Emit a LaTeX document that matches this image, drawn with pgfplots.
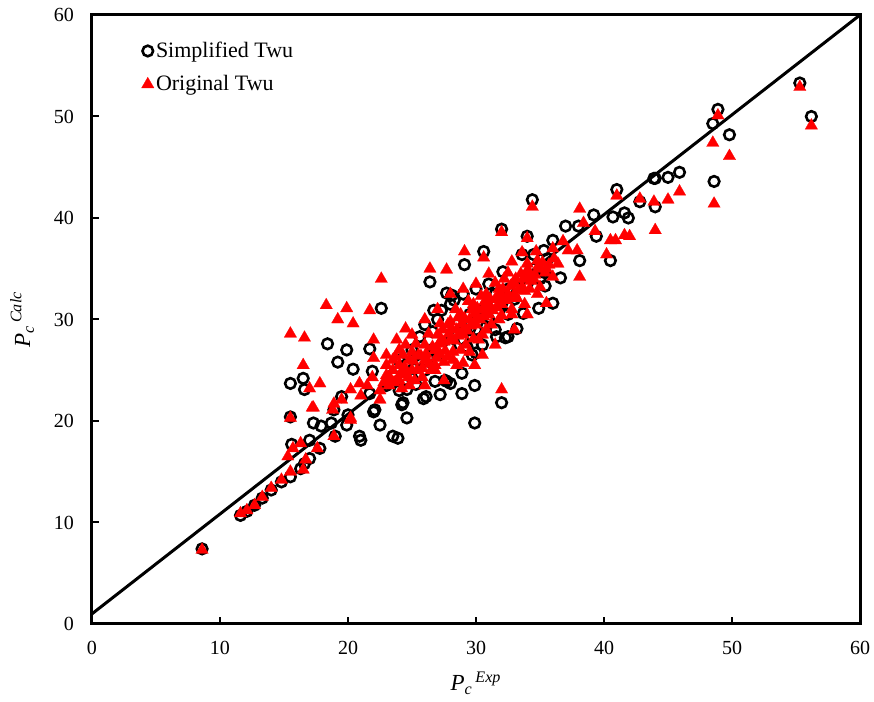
\documentclass[border=0pt]{standalone}
\usepackage{fontspec}
\setmainfont{Liberation Serif}
\usepackage{pgfplots}
\pgfplotsset{compat=1.18}
\definecolor{myred}{RGB}{255,0,0}
\begin{document}
\begin{tikzpicture}
\begin{axis}[name=ax,
  scale only axis, width=384pt, height=304.5pt,
  xmin=0, xmax=60, ymin=0, ymax=60,
  xtick={0,10,...,60}, ytick={0,10,...,60},
  tick pos=left, tick align=inside, major tick length=3.5pt,
  axis line style={line width=1.5pt},
  every tick/.style={black, line width=1pt},
  /pgf/number format/assume math mode=true,
  ticklabel style={font=\fontsize{10}{12}\selectfont},
  yticklabel style={xshift=-5.5pt},
  xticklabel style={yshift=-5pt},
  xlabel={\itshape P\textsubscript{c}\textsuperscript{\,Exp}},
  ylabel={\itshape P\textsubscript{c}\textsuperscript{\,Calc}},
  label style={font=\fontsize{11.5}{13}\selectfont},
  xlabel style={at={(axis description cs:0.5,-0.097)}, anchor=center},
  ylabel style={at={(axis description cs:-0.091,0.5)}, anchor=center, rotate=0},
  legend style={at={(axis description cs:0.064,0.96)}, anchor=north west, draw=none, fill=none,
    font=\fontsize{11}{13}\selectfont, inner sep=0pt, row sep=5.5pt,
    nodes={inner sep=1pt, anchor=west}},
  legend cell align=left,
  legend image code/.code={\draw[#1] plot coordinates {(0.13cm,0cm)};},
]
\addplot[only marks, mark=o, mark size=2.65pt, mark options={black, line width=1.3pt}] coordinates {
(8.6,7.4) (11.6,10.7) (12.1,11.1) (12.7,11.7) (13.3,12.4) (14.0,13.2) (14.8,14.0) (15.5,14.5)
(16.6,15.8) (16.3,15.3) (17.0,16.3) (17.8,17.3) (15.6,17.7) (17.0,18.1) (17.3,19.8) (17.9,19.5)
(18.7,19.8) (18.9,21.1) (19.0,18.5) (19.9,19.6) (20.0,20.6) (20.9,18.5) (21.0,18.1) (15.5,20.4)
(15.5,23.7) (16.5,24.2) (16.6,23.1) (18.4,27.6) (19.9,27.0) (19.2,25.8) (20.4,25.1) (21.7,27.1)
(21.9,24.9) (22.6,31.1) (19.5,22.4) (21.7,22.7) (22.0,20.9) (22.5,19.6) (22.1,21.1) (24.6,20.3)
(24.2,21.6) (23.5,18.5) (23.9,18.3) (24.3,21.8) (25.9,22.2) (26.1,22.4) (27.2,22.6) (28.9,22.7)
(29.9,23.5) (27.7,23.9) (26.8,23.9) (29.9,19.8) (32.0,21.8) (27.6,24.0) (28.0,23.7) (28.9,24.7)
(29.7,26.5) (25.6,28.3) (31.6,28.3) (32.3,28.2) (33.2,29.1) (33.7,30.6) (34.9,31.1) (26.4,33.7)
(27.7,32.6) (28.1,32.4) (29.1,35.4) (30.6,36.7) (32.0,38.9) (34.4,41.8) (34.0,38.2) (32.1,34.7)
(33.6,36.4) (35.3,36.8) (35.6,36.0) (34.5,36.4) (35.4,34.6) (35.4,33.3) (36.0,31.6) (36.6,34.1)
(36.0,37.8) (37.0,39.2) (38.0,39.2) (39.2,40.3) (38.1,35.8) (39.4,38.2) (40.5,35.8) (40.7,40.1)
(41.0,42.8) (41.6,40.5) (41.9,40.0) (42.8,41.6) (43.9,43.9) (44.0,43.9) (45.0,44.0) (45.9,44.5)
(44.0,41.1) (48.5,49.3) (48.9,50.7) (49.8,48.2) (48.6,43.6) (55.3,53.3) (56.2,50.0)
(23.0,23.5) (23.5,24.5) (24.0,23.0) (24.5,25.5) (25.0,24.2) (25.5,26.0) (26.0,25.0) (26.5,27.0)
(27.0,26.0) (27.5,28.5) (28.0,27.2) (28.5,29.5) (29.0,28.0) (29.5,30.5) (30.0,29.0) (30.5,31.0)
(31.0,30.0) (31.5,32.5) (32.0,31.5) (32.5,33.0) (33.0,32.0) (33.5,34.0) (34.0,33.5) (34.5,35.0)
(35.0,34.0) (27.0,30.0) (28.0,31.5) (29.0,32.5) (30.0,33.0) (31.0,33.5) (26.0,29.5) (30.5,27.5)
(31.5,29.0) (32.5,30.5) (25.0,27.0) (24.0,26.0) (29.5,29.0) (26.7,30.9) (30.0,26.7) (32.5,28.3)
(27.3,30.9) (28.3,31.9) (26.6,28.8) (30.8,29.3) (29.3,27.3) (25.3,23.6) (24.6,23.1)
};
\addlegendentry{Simplified Twu}
\addplot[only marks, mark=triangle*, mark size=3.6pt, mark options={myred, fill=myred, line width=0.1pt}] coordinates {
(8.6,7.3) (11.6,10.9) (12.1,11.2) (12.7,11.7) (13.3,12.5) (14.0,13.4) (14.8,14.2) (15.5,15.0)
(16.5,15.2) (16.7,16.2) (17.6,17.3) (15.3,16.5) (15.7,17.3) (16.3,17.8) (17.2,21.3) (15.5,20.3)
(18.9,18.5) (20.2,20.1) (18.9,21.7) (19.5,22.1) (20.2,23.1) (20.9,23.7) (17.8,23.7) (17.0,23.2)
(18.3,31.4) (19.9,31.1) (21.7,30.9) (19.2,30.0) (20.4,29.6) (15.5,28.6) (16.6,28.2) (16.5,25.5)
(17.3,21.3) (18.8,21.1) (20.2,20.3) (22.5,22.1) (21.9,24.3) (22.0,26.2) (23.8,28.0) (24.5,29.1)
(23.0,25.5) (23.7,26.3) (22.6,34.0) (26.4,35.0) (27.7,34.9) (29.1,36.7) (30.6,36.1) (32.0,38.6)
(34.4,41.1) (34.0,38.0) (32.0,23.1) (29.0,25.7) (29.9,25.5) (33.2,32.1) (32.0,30.4) (32.8,35.7)
(33.6,36.6) (34.7,36.7) (36.0,37.0) (36.8,37.7) (37.2,36.8) (37.9,36.8) (36.4,35.5) (36.0,34.2)
(35.5,31.6) (38.1,40.9) (38.4,39.5) (38.1,34.2) (39.3,38.7) (40.2,36.4) (40.5,37.8) (40.9,37.8)
(41.0,42.2) (41.6,38.3) (42.0,38.2) (42.8,41.9) (43.9,41.6) (44.0,38.8) (45.0,41.8) (45.9,42.6)
(48.5,47.4) (48.9,50.1) (49.8,46.1) (48.6,41.4) (55.3,52.9) (56.2,49.1)
(22.5,23.0) (23.0,24.5) (23.2,23.5) (23.5,25.0) (23.8,24.0) (24.0,25.5) (24.2,23.2) (24.5,24.8)
(24.8,26.0) (25.0,25.0) (25.2,24.0) (25.5,26.5) (25.8,25.2) (26.0,27.5) (26.2,26.0) (26.5,25.0)
(26.8,27.0) (27.0,28.5) (27.2,26.5) (27.5,27.8) (27.8,29.5) (28.0,28.0) (28.2,26.8) (28.5,29.0)
(28.8,30.5) (29.0,28.5) (29.2,27.5) (29.5,30.0) (29.8,31.5) (30.0,29.5) (30.2,28.0) (30.5,31.0)
(30.8,32.5) (31.0,30.5) (31.2,29.5) (31.5,32.0) (31.8,33.0) (32.0,31.5) (32.2,34.0) (32.5,32.5)
(32.8,31.0) (33.0,33.5) (33.5,34.5) (33.8,32.8) (34.0,35.5) (34.2,33.0) (34.5,34.0) (34.8,35.8)
(35.0,33.2) (35.5,35.0) (24.0,27.0) (25.0,28.5) (26.0,30.0) (27.0,31.0) (28.0,32.5) (29.0,33.0)
(30.0,33.5) (31.0,34.5) (27.5,24.0) (28.5,25.5) (30.5,26.5) (31.5,27.5) (33.0,29.0) (34.0,30.5)
(26.0,23.5) (23.0,26.5) (22.0,28.0) (24.5,27.5) (21.0,22.5) (21.5,23.5)
(22.8,23.8) (23.3,24.2) (23.6,23.8) (24.1,24.6) (24.4,25.3) (24.7,24.3) (25.1,25.9) (25.4,25.0)
(25.7,26.4) (26.1,26.6) (26.3,25.6) (26.6,27.3) (26.9,26.2) (27.1,27.6) (27.3,28.0) (27.6,26.9)
(27.9,28.6) (28.1,29.1) (28.3,27.9) (28.6,28.4) (28.9,29.6) (29.1,30.1) (29.3,28.9) (29.6,29.4)
(29.9,30.6) (30.1,31.1) (30.3,30.0) (30.6,30.3) (30.9,31.6) (31.1,32.0) (31.3,30.9) (31.6,31.2)
(31.9,32.6) (32.1,33.0) (32.3,31.9) (32.6,32.1) (32.9,33.6) (33.1,34.0) (33.3,32.9) (33.6,33.2)
(33.9,34.6) (34.1,34.8) (34.3,33.8) (34.6,34.4) (34.9,35.3) (35.2,35.6) (35.4,34.6) (35.7,35.4)
(36.1,36.0) (24.0,24.0) (25.0,26.8) (26.0,26.0) (27.0,27.0) (28.0,29.8) (29.0,29.0) (30.0,30.0)
(31.0,31.2) (32.0,32.0) (33.0,32.5) (34.0,34.0) (35.0,35.0) (26.8,25.5) (27.5,25.8) (28.2,26.0)
(29.5,26.8) (30.5,28.5) (27.2,29.6) (28.4,31.0) (29.4,31.8) (30.4,32.3) (31.5,33.6) (32.5,34.6)
(23.5,26.0) (24.3,26.5) (25.3,27.6) (26.3,28.6) (27.4,29.0) (28.6,30.2) (29.7,31.0) (30.7,31.8)
(31.7,32.2) (32.7,33.3) (33.7,34.0) (24.8,23.5) (25.8,24.3) (26.8,25.0) (27.8,26.3) (28.8,27.0)
(29.8,28.1) (30.8,29.0) (31.8,30.0) (32.8,30.5) (33.8,31.5) (34.8,32.5)
};
\addlegendentry{Original Twu}
\addplot[black, line width=1.5pt, forget plot] coordinates {(0,1) (60,60)};
\end{axis}
\pgfresetboundingbox
\path[use as bounding box] ([shift={(-46pt,-39pt)}]ax.south west) rectangle ([shift={(7pt,7.5pt)}]ax.north east);
\end{tikzpicture}
\end{document}
